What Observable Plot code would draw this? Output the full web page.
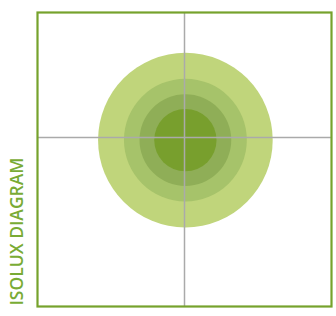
<!DOCTYPE html>
<html>
<head>
<meta charset="utf-8">
<script src="https://cdn.jsdelivr.net/npm/d3@7"></script>
<script src="https://cdn.jsdelivr.net/npm/@observablehq/plot@0.6"></script>
<style>
  html, body { margin: 0; padding: 0; background: #fff; }
  #chart svg { display: block; }
</style>
</head>
<body>
<div id="chart"></div>
<script>
// Isolux rings (outer to inner), radius in plan units
const ringLevels = ["outer", "mid", "inner", "core"];
const ringRadius = [29.7, 20.9, 15.6, 10.6];
const ringColor = ["#c0d57b", "#a6c36a", "#8fae57", "#789f2d"];
const centerX = 0.3;
const centerY = 6.6;
// crosshair axis positions
const crossX = [0];
const crossY = [7.5];
const title = "ISOLUX DIAGRAM";

const rings = ringLevels.map((k, i) => ({k, x: centerX, y: centerY, r: ringRadius[i], c: ringColor[i]}));

const chart = Plot.plot({
  width: 336,
  height: 316,
  marginLeft: 37,
  marginRight: 5,
  marginTop: 12,
  marginBottom: 10,
  x: {domain: [-50, 50], axis: null},
  y: {domain: [-50, 50], axis: null},
  r: {type: "linear", domain: [0, 50], range: [0, 147]},
  color: {type: "identity"},
  marks: [
    Plot.dot(rings, {x: "x", y: "y", r: "r", fill: "c", stroke: null}),
    Plot.ruleX(crossX, {stroke: "#aaaaaa", strokeWidth: 1.5}),
    Plot.ruleY(crossY, {stroke: "#aaaaaa", strokeWidth: 1.5}),
    Plot.frame({stroke: "#76a22c", strokeWidth: 2.2}),
    Plot.text([title], {
      frameAnchor: "bottom-left",
      rotate: -90,
      textAnchor: "start",
      lineAnchor: "middle",
      dx: -20,
      dy: -1,
      fill: "#79ab35",
      fontSize: 17.5,
      fontWeight: 600,
      fontFamily: "'Open Sans', sans-serif"
    })
  ]
});
document.getElementById("chart").append(chart);
</script>
</body>
</html>
